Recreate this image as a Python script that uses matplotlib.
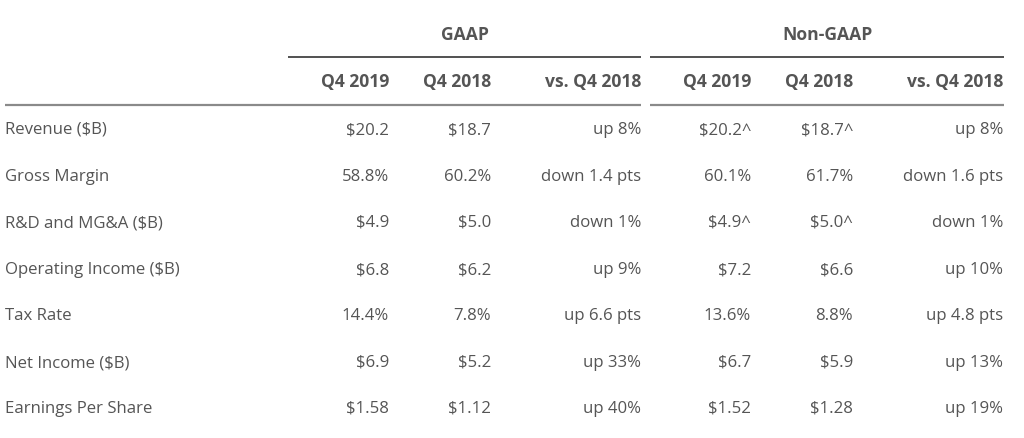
import matplotlib
matplotlib.use("Agg")
import matplotlib.pyplot as plt

row_labels = ["Revenue ($B)", "Gross Margin", "R&D and MG&A ($B)", "Operating Income ($B)",
              "Tax Rate", "Net Income ($B)", "Earnings Per Share"]
group_labels = ["GAAP", "Non-GAAP"]
col_labels = ["Q4 2019", "Q4 2018", "vs. Q4 2018", "Q4 2019", "Q4 2018", "vs. Q4 2018"]
gaap_q4_2019 = ["$20.2", "58.8%", "$4.9", "$6.8", "14.4%", "$6.9", "$1.58"]
gaap_q4_2018 = ["$18.7", "60.2%", "$5.0", "$6.2", "7.8%", "$5.2", "$1.12"]
gaap_vs = ["up 8%", "down 1.4 pts", "down 1%", "up 9%", "up 6.6 pts", "up 33%", "up 40%"]
nongaap_q4_2019 = ["$20.2^", "60.1%", "$4.9^", "$7.2", "13.6%", "$6.7", "$1.52"]
nongaap_q4_2018 = ["$18.7^", "61.7%", "$5.0^", "$6.6", "8.8%", "$5.9", "$1.28"]
nongaap_vs = ["up 8%", "down 1.6 pts", "down 1%", "up 10%", "up 4.8 pts", "up 13%", "up 19%"]

plt.rcParams['font.family'] = ['Open Sans', 'DejaVu Sans']
txt = "#555555"

fig = plt.figure(figsize=(10.24, 4.38), dpi=100)
ax = fig.add_axes([0, 0, 1, 1])
ax.set_xlim(0, 1024)
ax.set_ylim(438, 0)
ax.axis("off")

fs = 12.1
fsh = 12.6
col_right = [389, 491, 641, 751, 853, 1003]
group_spans = [(288, 641), (650, 1004)]
y_group = 35
y_cols = 82
y_rows = [130, 177, 223, 270, 316, 363, 409]

for (x0, x1), g in zip(group_spans, group_labels):
    ax.text((x0 + x1) / 2, y_group, g, ha="center", va="center", fontsize=fsh,
            fontweight="bold", color=txt)
    ax.plot([x0, x1], [57, 57], color="#333333", lw=1.2, solid_capstyle="butt")

for x, c in zip(col_right, col_labels):
    ax.text(x, y_cols, c, ha="right", va="center", fontsize=fsh, fontweight="bold", color=txt)

ax.plot([5, 641], [104.5, 104.5], color="#8a8a8a", lw=1.6, solid_capstyle="butt")
ax.plot([650, 1004], [104.5, 104.5], color="#8a8a8a", lw=1.6, solid_capstyle="butt")

columns = [gaap_q4_2019, gaap_q4_2018, gaap_vs, nongaap_q4_2019, nongaap_q4_2018, nongaap_vs]
for i, (lab, y) in enumerate(zip(row_labels, y_rows)):
    ax.text(5, y, lab, ha="left", va="center", fontsize=fs, color=txt)
    for x, col in zip(col_right, columns):
        ax.text(x, y, col[i], ha="right", va="center", fontsize=fs, color=txt)

fig.savefig("out.png", dpi=100, facecolor="white")
